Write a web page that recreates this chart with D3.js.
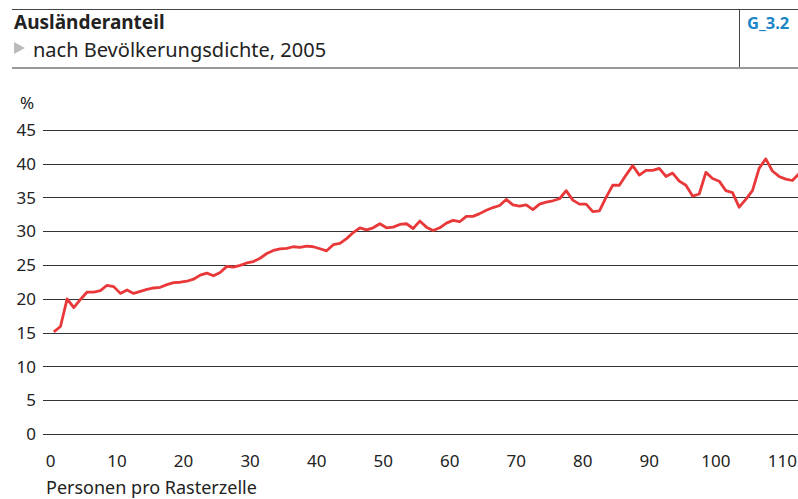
<!DOCTYPE html>
<html>
  <head>
    <meta charset="utf-8">
    <title>Ausländeranteil</title>
    <style media="screen">
      body {
        margin: 0;
        background: white;
      }

      text {
        font-family: "Noto Sans", sans-serif;
        fill: #222;
      }

      .grid line {
        stroke: #333;
        stroke-width: 1.2;
      }

      .y.axis text, .x.axis text {
        font-size: 17px;
      }

      .series {
        fill: none;
        stroke: #e8383a;
        stroke-width: 2.8;
        stroke-linejoin: round;
      }
    </style>
    <script src="https://d3js.org/d3.v7.min.js"></script>
  </head>
  <body>
    <script type="text/javascript">

      const title = 'Ausländeranteil';
      const subtitle = 'nach Bevölkerungsdichte, 2005';
      const code = 'G_3.2';
      const xLabel = 'Personen pro Rasterzelle';
      const yUnit = '%';

      const xTicks = [0, 10, 20, 30, 40, 50, 60, 70, 80, 90, 100, 110];
      const yTicks = [0, 5, 10, 15, 20, 25, 30, 35, 40, 45];

      // Ausländeranteil in % (one value per step)
      const anteil = [
        15.1, 15.9, 20.0, 18.7, 19.9, 21.0, 21.0, 21.2, 22.0, 21.8,
        20.8, 21.3, 20.8, 21.1, 21.4, 21.6, 21.7, 22.1, 22.4, 22.45,
        22.6, 22.9, 23.5, 23.8, 23.4, 23.9, 24.8, 24.7, 24.95, 25.3,
        25.5, 26.0, 26.7, 27.15, 27.4, 27.45, 27.7, 27.6, 27.8, 27.7,
        27.4, 27.1, 28.0, 28.2, 28.9, 29.8, 30.5, 30.2, 30.5, 31.1,
        30.5, 30.6, 31.0, 31.1, 30.4, 31.5, 30.6, 30.1, 30.5, 31.2,
        31.6, 31.4, 32.2, 32.2, 32.6, 33.1, 33.5, 33.8, 34.7, 33.9,
        33.7, 33.9, 33.2, 34.0, 34.3, 34.5, 34.8, 36.0, 34.6, 34.0,
        34.0, 32.9, 33.0, 35.0, 36.8, 36.8, 38.3, 39.7, 38.3, 39.0,
        39.0, 39.3, 38.1, 38.6, 37.4, 36.8, 35.2, 35.5, 38.7, 37.8,
        37.4, 36.0, 35.7, 33.55, 34.7, 36.0, 39.3, 40.7, 38.9, 38.1,
        37.7, 37.5, 38.5
      ];

      const width = 798;
      const height = 499;

      const svg = d3.select('body')
        .append('svg')
          .attr('width', width)
          .attr('height', height);

      // header
      svg.append('line')
        .attr('x1', 12).attr('x2', width)
        .attr('y1', 9.5).attr('y2', 9.5)
        .attr('stroke', '#444').attr('stroke-width', 1);

      svg.append('line')
        .attr('x1', 12).attr('x2', width)
        .attr('y1', 68).attr('y2', 68)
        .attr('stroke', '#999').attr('stroke-width', 2);

      svg.append('line')
        .attr('x1', 739.5).attr('x2', 739.5)
        .attr('y1', 9.5).attr('y2', 67)
        .attr('stroke', '#444').attr('stroke-width', 1);

      svg.append('text')
        .attr('x', 14).attr('y', 29)
        .style('font-size', '19px')
        .style('font-weight', 'bold')
        .text(title);

      svg.append('path')
        .attr('d', 'M14,42 L25,48 L14,54 Z')
        .attr('fill', '#bbb');

      svg.append('text')
        .attr('x', 33).attr('y', 57)
        .style('font-size', '20px')
        .text(subtitle);

      svg.append('text')
        .attr('x', 747).attr('y', 29)
        .style('font-size', '16.5px')
        .style('font-weight', 'bold')
        .style('fill', '#1a86c8')
        .text(code);

      // scales
      const x = d3.scaleLinear()
        .domain([0, 110])
        .range([50.5, 782.4]);

      const y = d3.scaleLinear()
        .domain([0, 45])
        .range([434, 129.8]);

      // horizontal gridlines
      svg.append('g')
        .attr('class', 'grid')
        .selectAll('line')
        .data(yTicks)
        .enter()
        .append('line')
          .attr('x1', 43)
          .attr('x2', width)
          .attr('y1', d => Math.round(y(d)) + 0.5)
          .attr('y2', d => Math.round(y(d)) + 0.5);

      // y axis labels
      svg.append('g')
        .attr('class', 'y axis')
        .selectAll('text')
        .data(yTicks)
        .enter()
        .append('text')
          .attr('x', 36)
          .attr('y', d => y(d))
          .attr('dy', '0.36em')
          .attr('text-anchor', 'end')
          .text(d => d);

      svg.append('text')
        .attr('x', 20).attr('y', 109)
        .style('font-size', '17px')
        .text(yUnit);

      // x axis labels
      svg.append('g')
        .attr('class', 'x axis')
        .selectAll('text')
        .data(xTicks)
        .enter()
        .append('text')
          .attr('x', d => x(d))
          .attr('y', 467)
          .attr('text-anchor', 'middle')
          .text(d => d);

      svg.append('text')
        .attr('x', 46).attr('y', 494)
        .style('font-size', '18px')
        .text(xLabel);

      // series
      const line = d3.line()
        .x((d, i) => x(i + 0.5))
        .y(d => y(d));

      svg.append('path')
        .datum(anteil)
        .attr('class', 'series')
        .attr('d', line);
    </script>
  </body>
</html>
